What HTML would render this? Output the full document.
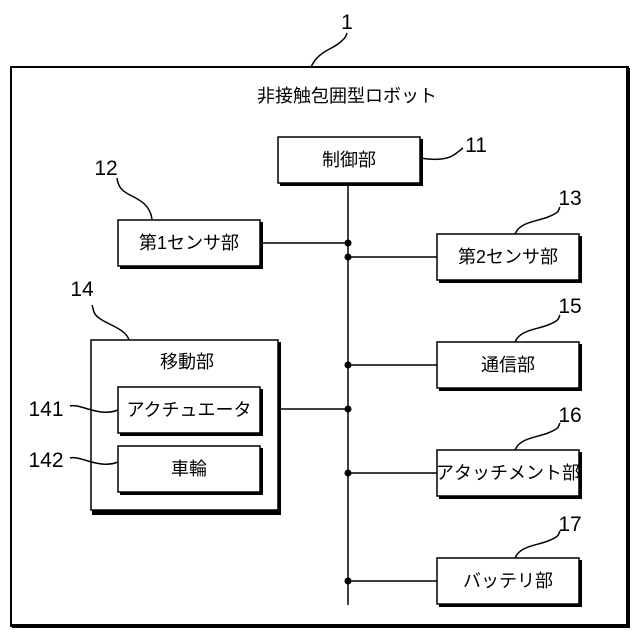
<!DOCTYPE html>
<html><head><meta charset="utf-8"><style>
html,body{margin:0;padding:0;background:#fff}
svg{display:block}
text{font-family:"Liberation Sans","Noto Sans CJK JP",sans-serif;fill:#000}
</style></head><body>
<svg width="640" height="640" viewBox="0 0 640 640" xmlns="http://www.w3.org/2000/svg">
<g fill="none" stroke="#000">
<rect x="11" y="67" width="617" height="559" stroke-width="2"/>
<line x1="628" y1="68" x2="628" y2="628" stroke-width="4"/>
<line x1="12" y1="626" x2="630" y2="626" stroke-width="4"/>
</g>
<g fill="none" stroke="#000" stroke-width="1.5">
<path d="M311 67 C318 52,330 50,338 44 S346 36,347 33"/>
<path d="M420 158 C432 160,445 160,452 156 S460 150,463 148"/>
<path d="M152 219 C150 205,140 200,130 195 S118 185,117 178"/>
<path d="M515 234 C520 222,535 222,548 217 S558 210,560 207"/>
<path d="M129 340 C126 330,112 326,102 320 S94 310,92 305"/>
<path d="M515 342 C520 330,535 330,548 325 S558 318,560 315"/>
<path d="M515 450 C520 438,535 438,548 433 S558 426,560 423"/>
<path d="M515 558 C520 546,535 546,548 541 S558 534,560 531"/>
<line x1="348" y1="183" x2="348" y2="605"/>
<line x1="260" y1="243" x2="348" y2="243"/>
<line x1="348" y1="257" x2="437" y2="257"/>
<line x1="348" y1="365" x2="437" y2="365"/>
<line x1="280" y1="409" x2="348" y2="409"/>
<line x1="348" y1="473" x2="437" y2="473"/>
<line x1="348" y1="581" x2="437" y2="581"/>
</g>
<g fill="#000">
<circle cx="348" cy="243" r="3.5"/><circle cx="348" cy="257" r="3.5"/>
<circle cx="348" cy="365" r="3.5"/><circle cx="348" cy="409" r="3.5"/>
<circle cx="348" cy="473" r="3.5"/><circle cx="348" cy="581" r="3.5"/>
</g>
<g stroke="#000" stroke-width="1.5" fill="#fff">
<rect x="92" y="342" width="189" height="173" fill="#000" stroke="none"/>
<rect x="91" y="340" width="187" height="170"/>
<rect x="280" y="139" width="143" height="47" fill="#000" stroke="none"/>
<rect x="278" y="137" width="142" height="46"/>
<rect x="120" y="222" width="143" height="47" fill="#000" stroke="none"/>
<rect x="118" y="220" width="142" height="46"/>
<rect x="439" y="236" width="143" height="47" fill="#000" stroke="none"/>
<rect x="437" y="234" width="142" height="46"/>
<rect x="439" y="344" width="143" height="47" fill="#000" stroke="none"/>
<rect x="437" y="342" width="142" height="46"/>
<rect x="439" y="452" width="143" height="47" fill="#000" stroke="none"/>
<rect x="437" y="450" width="142" height="46"/>
<rect x="439" y="560" width="143" height="47" fill="#000" stroke="none"/>
<rect x="437" y="558" width="142" height="46"/>
<rect x="120" y="389" width="143" height="47" fill="#000" stroke="none"/>
<rect x="118" y="387" width="142" height="46"/>
<rect x="120" y="448" width="143" height="47" fill="#000" stroke="none"/>
<rect x="118" y="446" width="142" height="46"/>
</g>
<g fill="none" stroke="#000" stroke-width="1.5">
<path d="M118 410 C108 414,98 412,88 409 S74 405,70 406"/>
<path d="M118 462 C108 466,98 464,88 461 S74 457,70 458"/>
</g>
<g font-size="18" text-anchor="middle">
<text x="347" y="102">非接触包囲型ロボット</text>
<text x="349" y="166">制御部</text>
<text x="189" y="249">第1センサ部</text>
<text x="508" y="263">第2センサ部</text>
<text x="508" y="371">通信部</text>
<text x="508" y="479">アタッチメント部</text>
<text x="508" y="587">バッテリ部</text>
<text x="187" y="368">移動部</text>
<text x="189" y="416">アクチュエータ</text>
<text x="189" y="475">車輪</text>
</g>
<g font-size="21" text-anchor="middle">
<text x="347" y="29">1</text>
<text x="476" y="152">11</text>
<text x="106" y="175">12</text>
<text x="570" y="205">13</text>
<text x="82" y="296">14</text>
<text x="570" y="313">15</text>
<text x="570" y="422">16</text>
<text x="570" y="531">17</text>
<text x="46" y="416">141</text>
<text x="46" y="467">142</text>
</g>
</svg>
</body></html>
